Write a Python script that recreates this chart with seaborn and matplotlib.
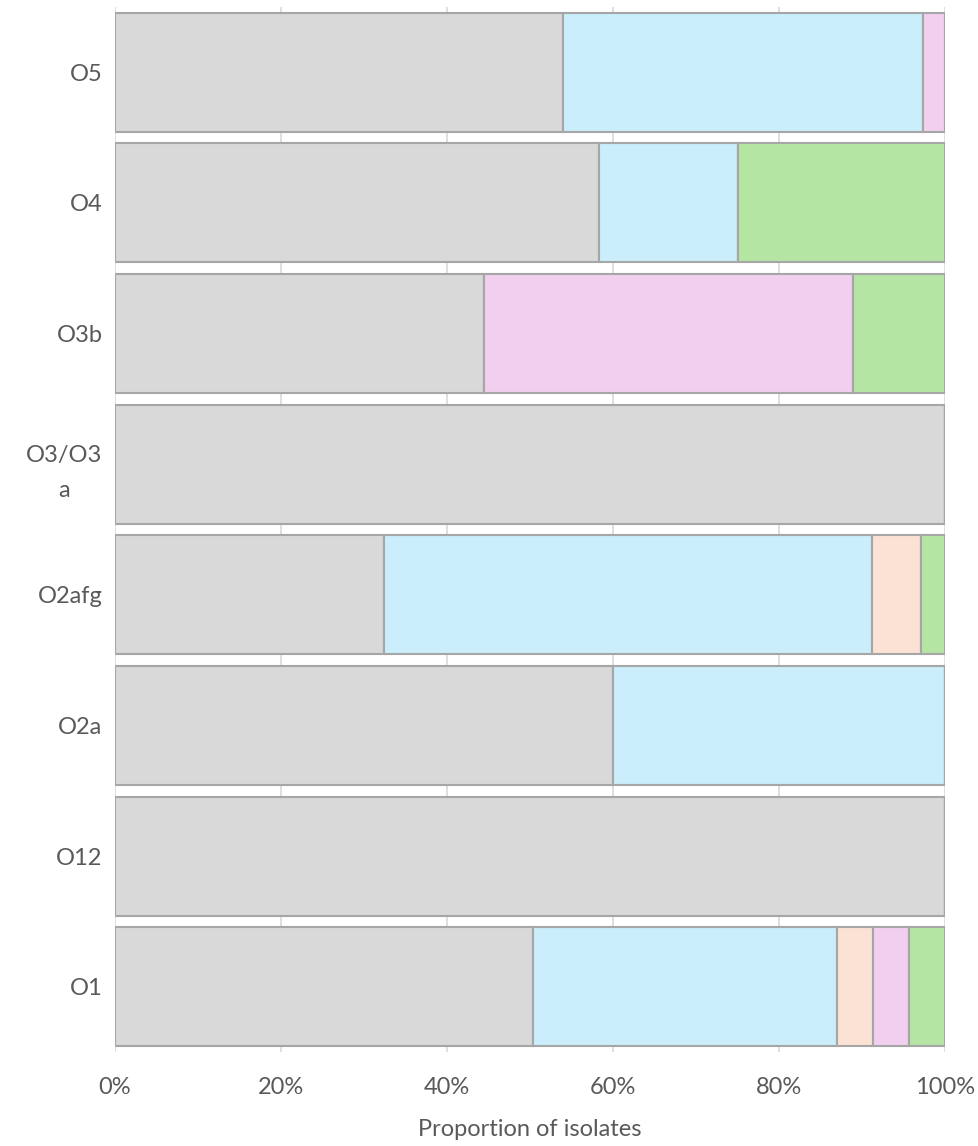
import numpy as np
import pandas as pd
import matplotlib.pyplot as plt
import seaborn as sns
from matplotlib.ticker import PercentFormatter

# 数据（从下到上）
categories = ['O1', 'O12', 'O2a', 'O2afg', 'O3/O3\na', 'O3b', 'O4', 'O5']
grey = [50.4, 100.0, 60.0, 32.4, 100.0, 44.4, 58.3, 54.0]
blue = [36.6, 0.0, 40.0, 58.8, 0.0, 0.0, 16.7, 43.3]
peach = [4.3, 0.0, 0.0, 5.9, 0.0, 0.0, 0.0, 0.0]
pink = [4.3, 0.0, 0.0, 0.0, 0.0, 44.5, 0.0, 2.7]
green = [4.4, 0.0, 0.0, 2.9, 0.0, 11.1, 25.0, 0.0]

series = [grey, blue, peach, pink, green]
colours = ['#D9D9D9', '#CAEEFB', '#FBE2D5', '#F2CEEF', '#B4E5A2']

sns.set_style('white')
plt.rcParams['font.family'] = ['Lato', 'DejaVu Sans']

fig, ax = plt.subplots(figsize=(9.79, 11.46), dpi=100)
fig.subplots_adjust(left=0.1175, right=0.9655, top=0.994, bottom=0.082)

# 逆序，使 O5 在最上面
order = categories[::-1]
left = np.zeros(len(categories))
for vals, col in zip(series, colours):
    df = pd.DataFrame({'cat': categories, 'val': vals, 'left': left})
    sns.barplot(data=df, x='val', y='cat', order=order, left=df.set_index('cat').loc[order, 'left'].values,
                color=col, saturation=1, edgecolor='#A6A6A6', linewidth=1.5, width=0.91, orient='h', ax=ax)
    left = left + np.array(vals)

ax.set_xlim(0, 100)
ax.set_ylim(len(categories) - 0.5, -0.5)
ax.xaxis.set_major_formatter(PercentFormatter(decimals=0))
ax.set_xticks([0, 20, 40, 60, 80, 100])
ax.grid(axis='x', color='#D9D9D9', linewidth=1.2)
ax.set_axisbelow(True)
for s in ax.spines.values():
    s.set_visible(False)
ax.tick_params(axis='both', length=0, colors='#595959', labelsize=17)
ax.tick_params(axis='x', pad=18)
ax.tick_params(axis='y', pad=9)
for lab in ax.get_yticklabels():
    lab.set_multialignment('center')
    lab.set_linespacing(1.8)
ax.set_ylabel('')
ax.set_xlabel('Proportion of isolates', fontsize=17, color='#595959', labelpad=15)

plt.savefig('out.png')
